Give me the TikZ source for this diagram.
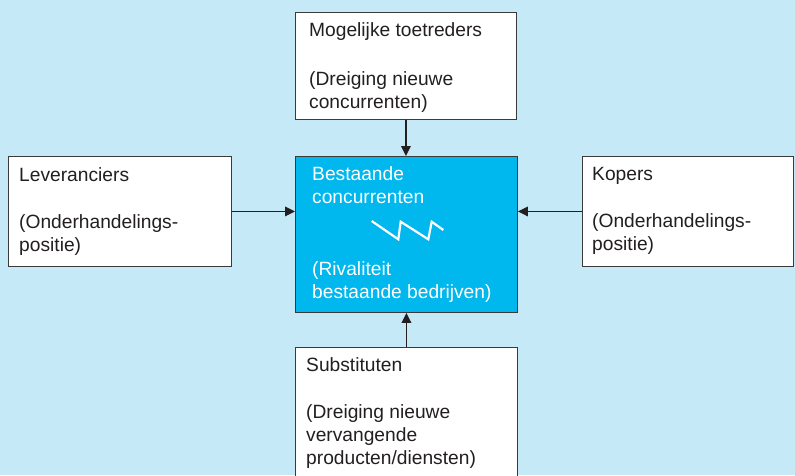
\documentclass[tikz,border=0pt]{standalone}
\usepackage{fontspec}
\setmainfont{Liberation Sans}
\usetikzlibrary{arrows.meta}
\definecolor{bg}{HTML}{C6E9F8}
\definecolor{core}{HTML}{00B7EE}
\definecolor{edge}{HTML}{3A3A3A}
\definecolor{ink}{HTML}{231F20}
\begin{document}
\begin{tikzpicture}[x=1pt,y=-1pt,
  forcebox/.style={draw=edge, line width=0.9pt, fill=white, anchor=north west, inner sep=0pt},
  lbl/.style={anchor=north west, inner sep=0pt, align=left, text=ink,
    font=\fontsize{19.2}{23}\selectfont},
  conn/.style={draw=ink, line width=1.8pt, -{Triangle[length=10pt,width=9.5pt]}}]
  % canvas
  \useasboundingbox (0,0) rectangle (795,475);
  \clip (0,0) rectangle (795,475);
  \fill[bg] (0,0) rectangle (795,475);

  % the five forces
  \node[forcebox, minimum width=221pt, minimum height=107pt] (entrants) at (295,12) {};
  \node[forcebox, minimum width=223pt, minimum height=110pt] (suppliers) at (8,156) {};
  \node[forcebox, fill=core, minimum width=222pt, minimum height=156pt] (rivals) at (295,156) {};
  \node[forcebox, minimum width=211pt, minimum height=110pt] (buyers) at (582,156) {};
  \node[forcebox, minimum width=222pt, minimum height=140pt] (subst) at (295,347) {};

  % labels
  \node[lbl] (entrantsT) at ([shift={(14pt,-8pt)}]entrants.north west)
    {\strut Mogelijke toetreders\\[26pt](Dreiging nieuwe\\concurrenten)};
  \node[lbl] (suppliersT) at ([shift={(11pt,-9pt)}]suppliers.north west)
    {\strut Leveranciers\\[24pt](Onderhandelings-\\positie)};
  \node[lbl, text=white] (rivalsT) at ([shift={(17pt,-8pt)}]rivals.north west)
    {\strut Bestaande\\concurrenten\\[49pt](Rivaliteit\\bestaande bedrijven)};
  \node[lbl] (buyersT) at ([shift={(10pt,-8pt)}]buyers.north west)
    {\strut Kopers\\[24pt](Onderhandelings-\\positie)};
  \node[lbl] (substT) at ([shift={(11pt,-8pt)}]subst.north west)
    {\strut Substituten\\[24pt](Dreiging nieuwe\\vervangende\\producten/diensten)};

  % rivalry sawtooth
  \draw[white, line width=2.2pt] (371.7,221) -- (398.3,239.3) -- (400.7,221.7)
    -- (428.3,239.3) -- (431.7,221.7) -- (443.3,230);

  % pressures on the industry
  \draw[conn] (entrants.south) -- (entrants.south |- rivals.north);
  \draw[conn] (subst.north) -- (subst.north |- rivals.south);
  \draw[conn] (suppliers.east) -- (suppliers.east -| rivals.west);
  \draw[conn] (buyers.west) -- (buyers.west -| rivals.east);
\end{tikzpicture}
\end{document}
